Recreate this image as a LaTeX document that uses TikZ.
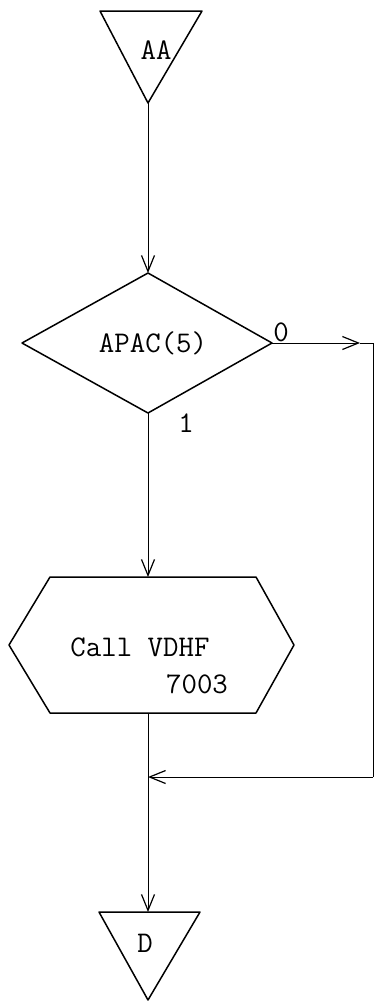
\documentclass[tikz,border=0pt]{standalone}
\usetikzlibrary{arrows.meta}
\begin{document}
\begin{tikzpicture}[x=1pt,y=-1pt,
  outline/.style={line width=1.5pt, line join=round},
  conn/.style={line width=0.8pt},
  tip/.style={-{Straight Barb[length=16pt,width=13pt,line width=1.2pt]}},
  lbl/.style={inner sep=0pt, font=\fontsize{30}{34}\selectfont\ttfamily}]
\useasboundingbox (0,0) rectangle (375,1004);
% start triangle AA
\coordinate (aaTL) at (100,11);
\coordinate (aaTR) at (202,11);
\coordinate (aaB) at (148,103);
\draw[outline] (aaTL) -- (aaTR) -- (aaB) -- cycle;
\node[lbl] (aa) at (156,50) {AA};
% decision diamond
\coordinate (dT) at (148,273);
\coordinate (dR) at (272,343);
\coordinate (dB) at (148,413);
\coordinate (dL) at (22,343);
\draw[outline] (dT) -- (dR) -- (dB) -- (dL) -- cycle;
\node[lbl] (apac) at (153,343) {APAC(5)};
\node[lbl] (zero) at (281,332) {0};
\node[lbl] (one) at (186,423) {1};
% hexagon
\coordinate (hTL) at (50,577);
\coordinate (hT) at (148,577);
\coordinate (hTR) at (256,577);
\coordinate (hR) at (294,645);
\coordinate (hBR) at (256,713);
\coordinate (hB) at (148,713);
\coordinate (hBL) at (50,713);
\coordinate (hL) at (9,645);
\draw[outline] (hTL) -- (hTR) -- (hR) -- (hBR) -- (hBL) -- (hL) -- cycle;
\node[lbl] (call) at (140,647) {Call VDHF};
\node[lbl] (num) at (197,684) {7003};
% end triangle D
\coordinate (eTL) at (99,912);
\coordinate (eT) at (148,912);
\coordinate (eTR) at (200,912);
\coordinate (eB) at (148,1000);
\draw[outline] (eTL) -- (eTR) -- (eB) -- cycle;
\node[lbl] (d) at (145,943) {D};
% connectors
\coordinate (rarr) at (360,343);
\coordinate (rc) at (373,343);
\coordinate (rb) at (373,777);
\coordinate (join) at (148,777);
\draw[conn,tip] (aaB) -- (dT);
\draw[conn,tip] (dR) -- (rarr);
\draw[conn] (rarr) -- (rc) -- (rb);
\draw[conn,tip] (rb) -- (join);
\draw[conn,tip] (dB) -- (hT);
\draw[conn] (hB) -- (join);
\draw[conn,tip] (join) -- (eT);
\end{tikzpicture}
\end{document}
